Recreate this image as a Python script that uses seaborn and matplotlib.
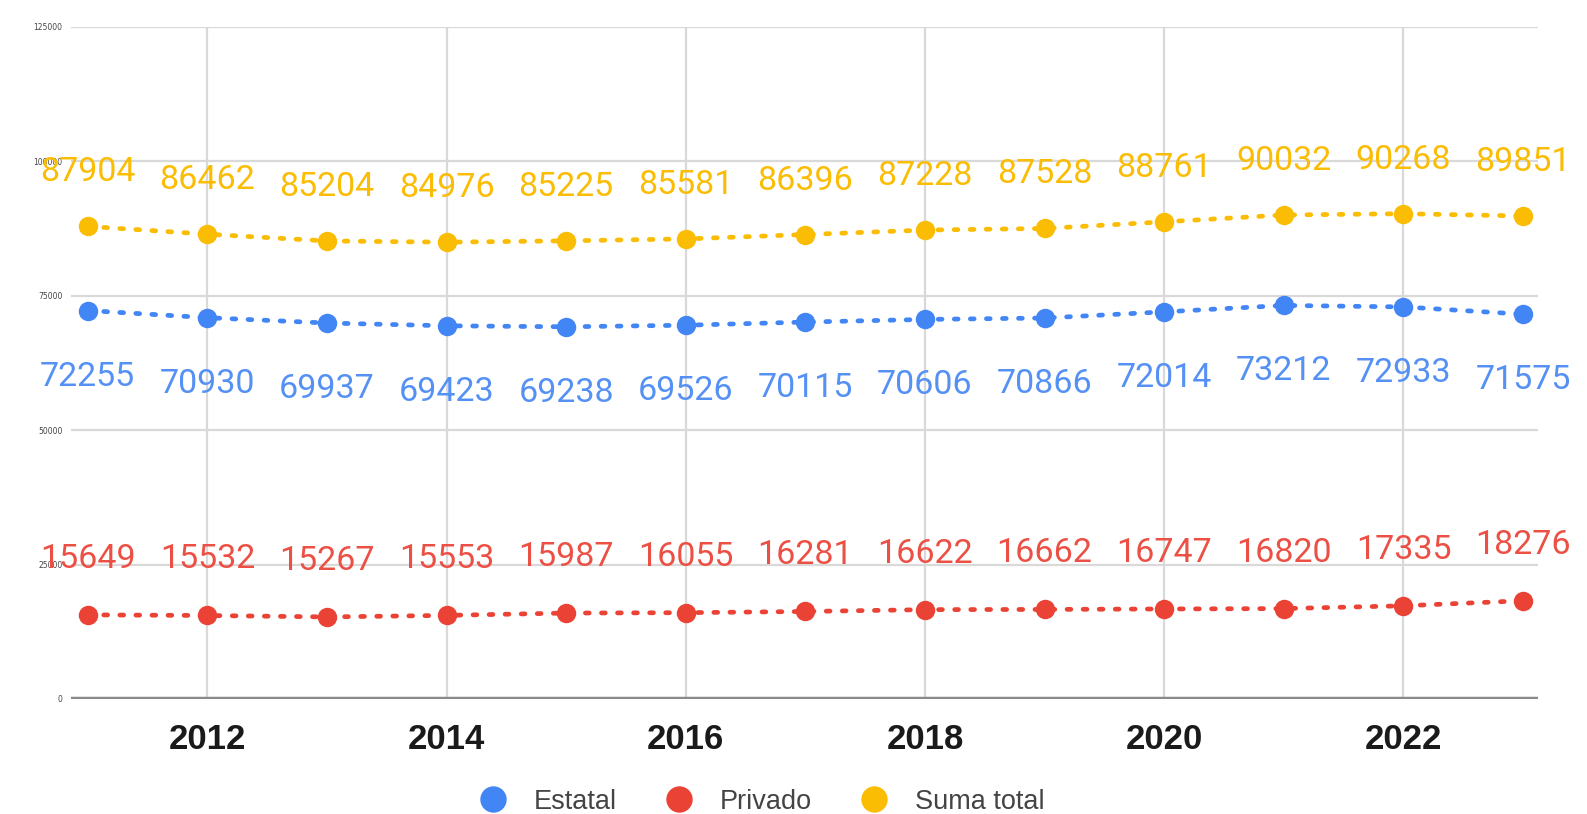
import matplotlib
matplotlib.use("Agg")
import matplotlib.pyplot as plt
from matplotlib.lines import Line2D
import seaborn as sns
import pandas as pd

years = [2011, 2012, 2013, 2014, 2015, 2016, 2017, 2018, 2019, 2020, 2021, 2022, 2023]
estatal = [72255, 70930, 69937, 69423, 69238, 69526, 70115, 70606, 70866, 72014, 73212, 72933, 71575]
privado = [15649, 15532, 15267, 15553, 15987, 16055, 16281, 16622, 16662, 16747, 16820, 17335, 18276]
total = [87904, 86462, 85204, 84976, 85225, 85581, 86396, 87228, 87528, 88761, 90032, 90268, 89851]
series_names = ["Estatal", "Privado", "Suma total"]
colors = {"Estatal": "#4285F4", "Privado": "#EA4335", "Suma total": "#FBBC04"}
label_colors = {"Estatal": "#5591F5", "Privado": "#EC5045", "Suma total": "#FBBC04"}
x_ticks = [2012, 2014, 2016, 2018, 2020, 2022]
y_ticks = [0, 25000, 50000, 75000, 100000, 125000]

df = pd.concat([
    pd.DataFrame({"year": years, "value": vals, "serie": name})
    for name, vals in zip(series_names, [estatal, privado, total])
])

sns.set_theme(style="white")
plt.rcParams['font.family'] = ['Roboto', 'DejaVu Sans']

fig = plt.figure(figsize=(15.87, 8.14), dpi=100)
ax = fig.add_axes([71/1587, 1 - 699/814, (1538-71)/1587, (699-27)/814])

sns.lineplot(data=df, x="year", y="value", hue="serie", hue_order=series_names,
             palette=colors, marker="o", markersize=14, markeredgewidth=0,
             linewidth=3.4, legend=False, ax=ax, zorder=3)
for ln in ax.get_lines():
    ln.set_linestyle((0, (0.8, 2.6)))
    ln.set_dash_capstyle("round")

offsets = {"Estatal": -66, "Privado": 56, "Suma total": 54}
for name, vals in zip(series_names, [estatal, privado, total]):
    for x, v in zip(years, vals):
        ax.annotate(f"{v}", (x, v), xytext=(0, offsets[name]), textcoords="offset pixels",
                    ha="center", va="center", fontsize=24.5, color=label_colors[name],
                    family="Roboto", zorder=4)

ax.set_xlim(2010.86, 2023.125)
ax.set_ylim(0, 125000)
ax.set_yticks(y_ticks)
ax.set_yticklabels([str(t) for t in y_ticks], fontsize=5.5, color="#444444", family="DejaVu Sans")
ax.set_xticks(x_ticks)
ax.set_xticklabels([str(t) for t in x_ticks], fontsize=25, fontweight="bold",
                   color="#1a1a1a", family="Liberation Sans")
ax.tick_params(axis="x", length=0, pad=17)
ax.tick_params(axis="y", length=0, pad=6)
ax.set_xlabel("")
ax.set_ylabel("")

for y in y_ticks[1:]:
    ax.axhline(y, color="#d9d9d9", lw=1.6, zorder=1)
for x in x_ticks:
    ax.axvline(x, color="#d9d9d9", lw=1.6, zorder=1)
ax.axhline(0, color="#8a8a8a", lw=3.2, zorder=2)

for s in ax.spines.values():
    s.set_visible(False)

handles = [Line2D([0], [0], marker="o", linestyle="none", markersize=19,
                  markerfacecolor=colors[n], markeredgewidth=0) for n in series_names]
fig.legend(handles, series_names, loc="center", bbox_to_anchor=(0.476, 0.015),
           ncol=3, frameon=False, prop={"family": "Liberation Sans", "size": 19.5},
           labelcolor="#444444", handletextpad=0.5, columnspacing=1.3)

fig.savefig("out.png", dpi=100, facecolor="white")
